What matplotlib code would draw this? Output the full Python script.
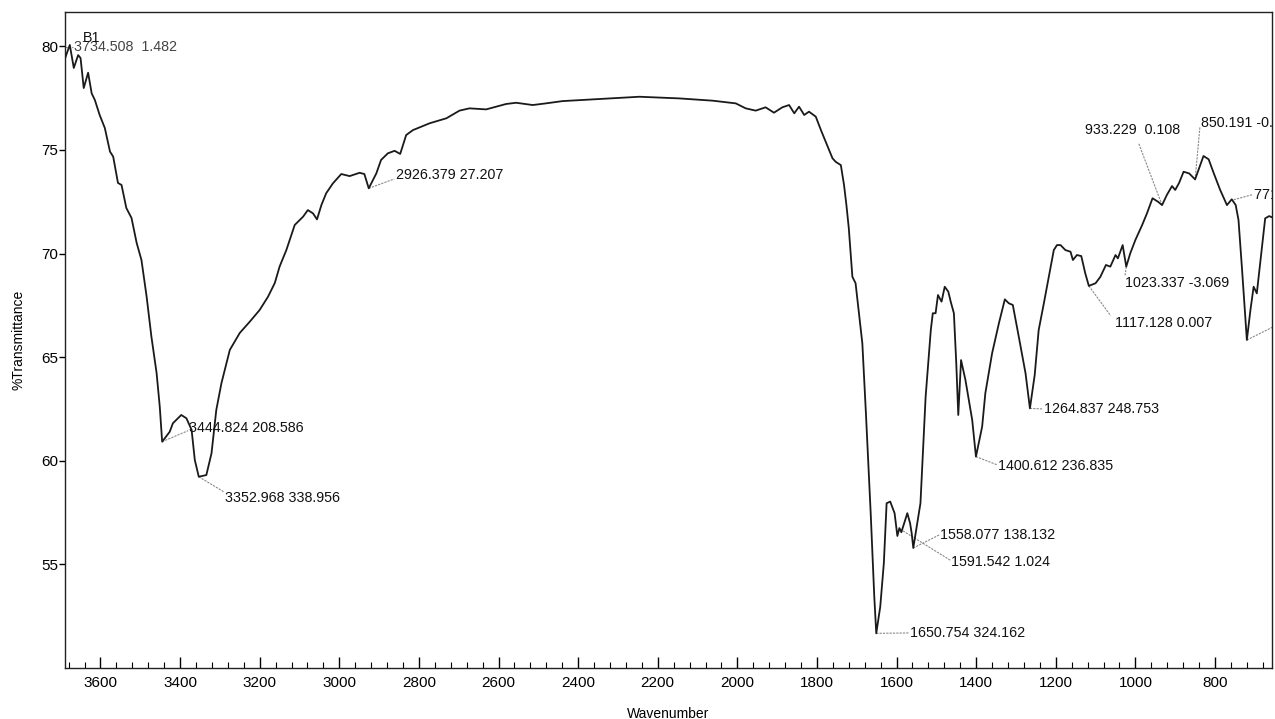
import matplotlib
matplotlib.use("Agg")
import matplotlib.pyplot as plt
from matplotlib.ticker import MultipleLocator

plt.rcParams['font.family'] = ['Liberation Sans', 'DejaVu Sans']

# Spectrum trace (wavenumber cm-1, %T)
wavenumber = [3689, 3677, 3667, 3656, 3650, 3642, 3631, 3622, 3614, 3602, 3589, 3576, 3568,
              3556, 3547, 3535, 3522, 3509, 3497, 3484, 3472, 3459, 3451, 3445, 3426, 3418,
              3397, 3384, 3371, 3363, 3353, 3334, 3321, 3309, 3296, 3275, 3250, 3225, 3200,
              3179, 3162, 3150, 3133, 3112, 3091, 3079, 3066, 3056, 3045, 3033, 3016, 2995,
              2974, 2949, 2937, 2926, 2907, 2895, 2878, 2861, 2847, 2832, 2815, 2773, 2731,
              2698, 2673, 2631, 2581, 2556, 2514, 2481, 2439, 2355, 2246, 2146, 2062, 2004,
              1979, 1954, 1929, 1908, 1887, 1870, 1857, 1845, 1832, 1820, 1803, 1790, 1778,
              1761, 1753, 1740, 1732, 1726, 1720, 1711, 1703, 1686, 1677, 1665, 1656, 1651,
              1641, 1632, 1625, 1616, 1605, 1598, 1593, 1588, 1573, 1566, 1562, 1558, 1540,
              1527, 1514, 1509, 1502, 1496, 1487, 1479, 1470, 1464, 1456, 1450, 1445, 1438,
              1427, 1410, 1400.6, 1385, 1377, 1360, 1343, 1328, 1318, 1308, 1293, 1276, 1265,
              1253, 1243, 1230, 1218, 1205, 1197, 1188, 1176, 1163, 1157, 1147, 1136, 1126,
              1117, 1100, 1088, 1074, 1063, 1050, 1044, 1032, 1023, 1013, 1000, 983, 971,
              957, 943, 933, 921, 908, 900, 890, 879, 865, 850, 837, 829, 816, 803, 787, 770,
              758, 748, 741, 732, 720, 711, 703, 695, 682, 674, 664, 653]
transmittance = [79.42, 80.07, 78.96, 79.58, 79.44, 77.99, 78.73, 77.73, 77.41, 76.69, 76.06,
                 74.92, 74.68, 73.41, 73.31, 72.20, 71.72, 70.51, 69.69, 67.92, 65.99, 64.24,
                 62.61, 60.92, 61.40, 61.81, 62.21, 62.05, 61.49, 60.04, 59.23, 59.31, 60.36,
                 62.45, 63.75, 65.35, 66.17, 66.71, 67.28, 67.92, 68.58, 69.37, 70.17, 71.38,
                 71.78, 72.10, 71.94, 71.65, 72.34, 72.91, 73.39, 73.84, 73.74, 73.90, 73.84,
                 73.15, 73.87, 74.52, 74.84, 74.96, 74.81, 75.72, 75.96, 76.29, 76.53, 76.90,
                 77.01, 76.96, 77.22, 77.28, 77.17, 77.25, 77.36, 77.45, 77.57, 77.49, 77.38,
                 77.25, 77.01, 76.90, 77.06, 76.80, 77.06, 77.17, 76.77, 77.09, 76.69, 76.85,
                 76.61, 75.96, 75.40, 74.60, 74.43, 74.27, 73.31, 72.34, 71.22, 68.88, 68.57,
                 65.67, 62.29, 57.47, 53.44, 51.67, 52.96, 55.05, 57.95, 58.03, 57.47, 56.37,
                 56.75, 56.55, 57.47, 56.98, 56.50, 55.79, 57.95, 63.09, 66.31, 67.12, 67.12,
                 68.00, 67.68, 68.40, 68.16, 67.68, 67.12, 64.70, 62.21, 64.86, 63.90, 61.97,
                 60.20, 61.65, 63.26, 65.19, 66.63, 67.79, 67.60, 67.52, 65.99, 64.22, 62.53,
                 64.14, 66.31, 67.60, 68.82, 70.17, 70.41, 70.41, 70.17, 70.09, 69.69, 69.93,
                 69.88, 69.05, 68.44, 68.57, 68.88, 69.45, 69.37, 69.93, 69.77, 70.41, 69.37,
                 70.01, 70.66, 71.38, 71.94, 72.67, 72.50, 72.34, 72.83, 73.26, 73.07, 73.42,
                 73.95, 73.87, 73.58, 74.27, 74.71, 74.55, 73.87, 73.07, 72.34, 72.62, 72.34,
                 71.62, 69.21, 65.83, 67.28, 68.40, 68.08, 70.33, 71.70, 71.81, 71.72]

# Peak-pick labels: text, peak (w, T), label anchor (w, T)
peak_labels = ["3444.824 208.586", "3352.968 338.956", "2926.379 27.207",
               "1650.754 324.162", "1558.077 138.132", "1591.542 1.024",
               "1400.612 236.835", "1264.837 248.753", "1117.128 0.007",
               "1023.337 -3.069", "933.229  0.108", "850.191 -0.103", "771.612 0.205"]
peak_w = [3445, 3353, 2926, 1651, 1558, 1591, 1400.6, 1265, 1117, 1023, 933, 850, 753]
peak_t = [60.92, 59.23, 73.15, 51.67, 55.79, 56.7, 60.20, 62.53, 68.44, 69.37, 72.34, 73.58, 72.6]
label_w = [3378, 3287, 2858, 1566, 1491, 1463, 1345, 1230, 1052, 1027, 1127, 834, 703]
label_t = [61.58, 58.20, 73.79, 51.69, 56.42, 55.12, 59.75, 62.50, 66.65, 68.58, 75.96, 76.30, 72.83]
line_end_w = [3380, 3290, 2862, 1568, 1493, 1465, 1347, 1232, 1062, 1026, 992, 838, 705]
line_end_t = [61.45, 58.50, 73.60, 51.69, 56.42, 55.20, 59.80, 62.50, 67.00, 68.95, 75.33, 76.10, 72.85]

fig = plt.figure(figsize=(12.75, 7.19), dpi=100)
ax = fig.add_axes([0.051, 0.071, 0.9466, 0.9123])

ax.plot(wavenumber, transmittance, color='#1a1a1a', lw=1.3, zorder=3)

for txt, pw, pt, lw_, lt, ew, et in zip(peak_labels, peak_w, peak_t, label_w, label_t,
                                        line_end_w, line_end_t):
    ax.plot([pw, ew], [pt, et], color='#8a8a8a', lw=0.8, ls=(0, (2, 1)), zorder=2)
    ax.text(lw_, lt, txt, fontsize=10.3, ha='left', va='center', clip_on=True, color='#111111')

# clipped marker line at the right edge
ax.plot([720, 650], [65.83, 66.5], color='#8a8a8a', lw=0.8, ls=(0, (2, 1)), zorder=2)

# B1 and first peak label
ax.plot([3689, 3668], [79.97, 79.97], color='#8a8a8a', lw=0.8, ls=(0, (2, 1)))
ax.text(3666, 79.97, "3734.508  1.482", fontsize=10.3, ha='left', va='center', color='#444444')
ax.text(3644, 80.42, "B1", fontsize=10.3, ha='left', va='center', color='#111111')

ax.set_xlim(3689, 657)
ax.set_ylim(50.0, 81.66)

ax.xaxis.set_major_locator(MultipleLocator(200))
ax.xaxis.set_minor_locator(MultipleLocator(40))
ax.set_yticks([55, 60, 65, 70, 75, 80])
ax.tick_params(axis='x', which='major', direction='in', length=8, width=1, pad=6, labelsize=11)
ax.tick_params(axis='x', which='minor', direction='in', length=4, width=0.8)
ax.tick_params(axis='y', which='major', direction='out', length=4, width=1, pad=1, labelsize=11)

for s in ax.spines.values():
    s.set_linewidth(1.0)
    s.set_color('#222222')

ax.set_xlabel("Wavenumber", fontsize=10, labelpad=12)
ax.set_ylabel("%Transmittance", fontsize=10, labelpad=11)

fig.savefig("out.png", dpi=100)
